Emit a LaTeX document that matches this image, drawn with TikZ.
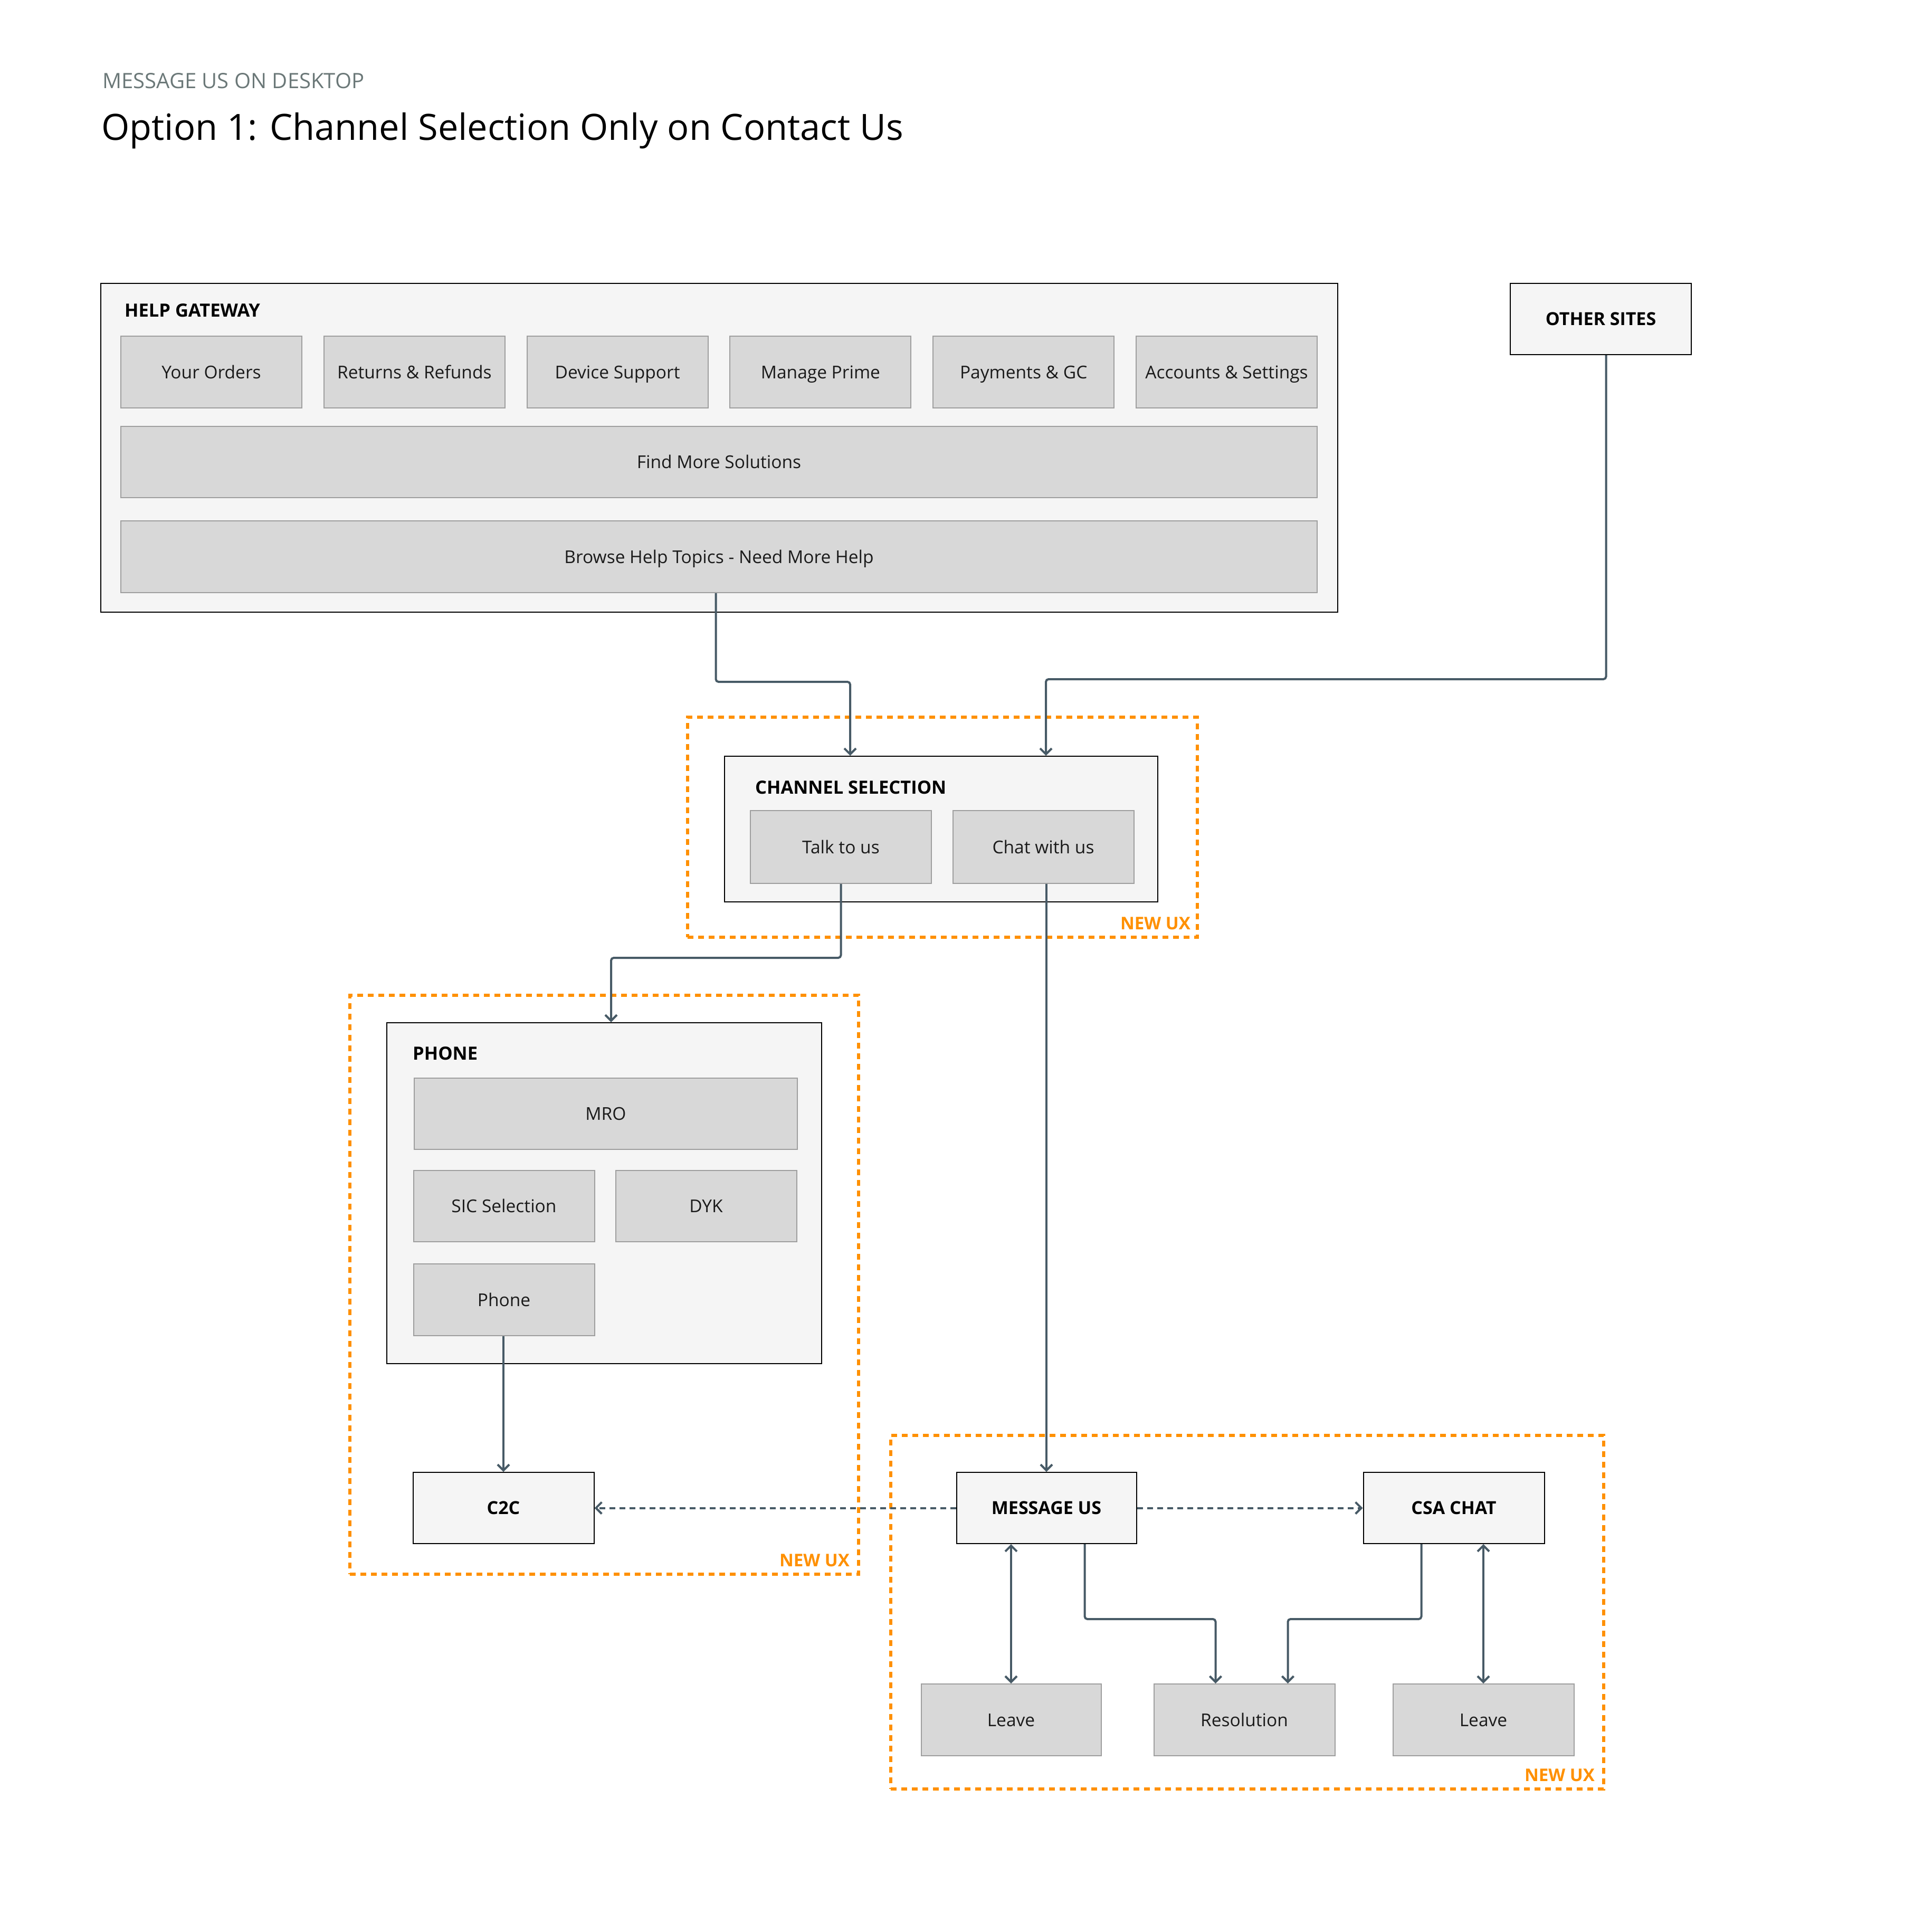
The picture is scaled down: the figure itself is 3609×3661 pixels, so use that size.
\documentclass[tikz,border=0pt]{standalone}
\usepackage{fontspec}
\setmainfont{Open Sans}
\usetikzlibrary{arrows.meta}
\definecolor{outerfill}{HTML}{F5F5F5}
\definecolor{btnfill}{HTML}{D8D8D8}
\definecolor{btnborder}{HTML}{9E9E9E}
\definecolor{conncol}{HTML}{475A66}
\definecolor{uxorange}{HTML}{FF9000}
\definecolor{subgray}{HTML}{6B7878}
\definecolor{textdark}{HTML}{1A1A1A}
\begin{document}
\begin{tikzpicture}[x=1pt,y=-1pt,
  outerbox/.style={draw=black, line width=2pt, fill=outerfill, inner sep=0pt},
  btn/.style={draw=btnborder, line width=2pt, fill=btnfill, inner sep=0pt,
    minimum width=343pt, minimum height=136pt, text=textdark,
    text height=24pt, text depth=0pt,
    font=\fontsize{33.5}{40}\selectfont},
  keybox/.style={draw=black, line width=2pt, fill=outerfill, inner sep=0pt,
    minimum width=343pt, minimum height=136pt, text=black,
    text height=24pt, text depth=0pt,
    font=\fontsize{34}{40}\selectfont\bfseries},
  hdr/.style={font=\fontsize{34.5}{40}\selectfont\bfseries, anchor=base west, inner sep=0pt},
  uxbox/.style={draw=uxorange, line width=6pt, dash pattern=on 11pt off 9pt, inner sep=0pt},
  uxlabel/.style={text=uxorange, font=\fontsize{33}{40}\selectfont\bfseries, anchor=base east, inner sep=0pt},
  conn/.style={draw=conncol, line width=4pt, rounded corners=5pt,
    -{Straight Barb[length=11pt,width=22pt]}},
  bconn/.style={draw=conncol, line width=4pt,
    {Straight Barb[length=11pt,width=22pt]}-{Straight Barb[length=11pt,width=22pt]}},
  dconn/.style={draw=conncol, line width=4pt, dash pattern=on 11pt off 8pt,
    -{Straight Barb[length=11pt,width=22pt]}}
]
\useasboundingbox[fill=white] (0,0) rectangle (3609,3661);

% titles
\node[anchor=base west, inner sep=0pt, text=subgray, font=\fontsize{40}{46}\selectfont] (sub) at (194,168) {MESSAGE US ON DESKTOP};
\node[anchor=base west, inner sep=0pt, text=black, font=\fontsize{68.5}{80}\selectfont] (title) at (192,265) {Option 1: Channel Selection Only on Contact Us};

% orange NEW UX regions
\node[uxbox, minimum width=966pt, minimum height=417pt] (ux1) at (1786,1567.5) {};
\node[uxbox, minimum width=964pt, minimum height=1097pt] (ux2) at (1145,2434.5) {};
\node[uxbox, minimum width=1351pt, minimum height=670pt] (ux3) at (2363.5,3055) {};
\node[uxlabel] (ux1l) at ([xshift=-16pt,yshift=18pt]ux1.south east) {NEW UX};
\node[uxlabel] (ux2l) at ([xshift=-20pt,yshift=18pt]ux2.south east) {NEW UX};
\node[uxlabel] (ux3l) at ([xshift=-20pt,yshift=18pt]ux3.south east) {NEW UX};

% help gateway
\node[outerbox, minimum width=2344pt, minimum height=623pt] (hg) at (1363,848.5) {};
\node[hdr] (hgt) at (236,600) {HELP GATEWAY};
\node[btn] (yo) at (400.5,705) {Your Orders};
\node[btn] (rr) at (785.3,705) {Returns \& Refunds};
\node[btn] (ds) at (1170.1,705) {Device Support};
\node[btn] (mp) at (1554.9,705) {Manage Prime};
\node[btn] (pg) at (1939.7,705) {Payments \& GC};
\node[btn] (as) at (2324.5,705) {Accounts \& Settings};
\node[btn, minimum width=2267pt, minimum height=135pt] (fm) at (1362.5,875.5) {Find More Solutions};
\node[btn, minimum width=2267pt] (bh) at (1362.5,1055) {Browse Help Topics - Need More Help};

% other sites
\node[keybox, minimum height=135pt] (os) at (3033.5,604.5) {OTHER SITES};

% channel selection
\node[outerbox, minimum width=821pt, minimum height=276pt] (cs) at (1783.5,1571) {};
\node[hdr] (cst) at (1431,1504) {CHANNEL SELECTION};
\node[btn, minimum height=138pt] (talk) at (1593.5,1605) {Talk to us};
\node[btn, minimum height=138pt] (chat) at (1977,1605) {Chat with us};

% phone
\node[outerbox, minimum width=824pt, minimum height=646pt] (ph) at (1145,2261) {};
\node[hdr] (pht) at (782,2008) {PHONE};
\node[btn, minimum width=726pt, minimum height=135pt] (mro) at (1148,2110.5) {MRO};
\node[btn, minimum height=135pt] (sic) at (955,2285.5) {SIC Selection};
\node[btn, minimum height=135pt] (dyk) at (1338,2285.5) {DYK};
\node[btn] (phb) at (955,2463) {Phone};
\node[keybox, minimum height=135pt] (c2c) at (954,2857.5) {C2C};

% message us area
\node[keybox, minimum width=341pt, minimum height=135pt] (mu) at (1983,2857.5) {MESSAGE US};
\node[keybox, minimum height=135pt] (csa) at (2755,2857.5) {CSA CHAT};
\node[btn, minimum width=341pt] (lv1) at (1916,3259) {Leave};
\node[btn] (res) at (2358,3259) {Resolution};
\node[btn] (lv2) at (2811,3259) {Leave};

% connectors
\draw[conn] ([xshift=-6pt]bh.south) -- ++(0,168) -| ([xshift=-172.5pt]cs.north);
\draw[conn] ([xshift=10pt]os.south) -- ++(0,614) -| ([xshift=198.5pt]cs.north);
\draw[conn] (talk.south) -- ++(0,140) -| ([xshift=13pt]ph.north);
\draw[conn] (mu.north |- chat.south) -- (mu.north);
\draw[conn] (c2c.north |- phb.south) -- (c2c.north);
\draw[dconn] (mu.west) -- (c2c.east);
\draw[dconn] (mu.east) -- (csa.west);
\draw[bconn] (lv1.north |- mu.south) -- (lv1.north);
\draw[bconn] (lv2.north |- csa.south) -- (lv2.north);
\draw[conn] ([xshift=72.5pt]mu.south) -- ++(0,142) -| ([xshift=-54.5pt]res.north);
\draw[conn] ([xshift=-61.5pt]csa.south) -- ++(0,142) -| ([xshift=82.5pt]res.north);
\end{tikzpicture}
\end{document}
